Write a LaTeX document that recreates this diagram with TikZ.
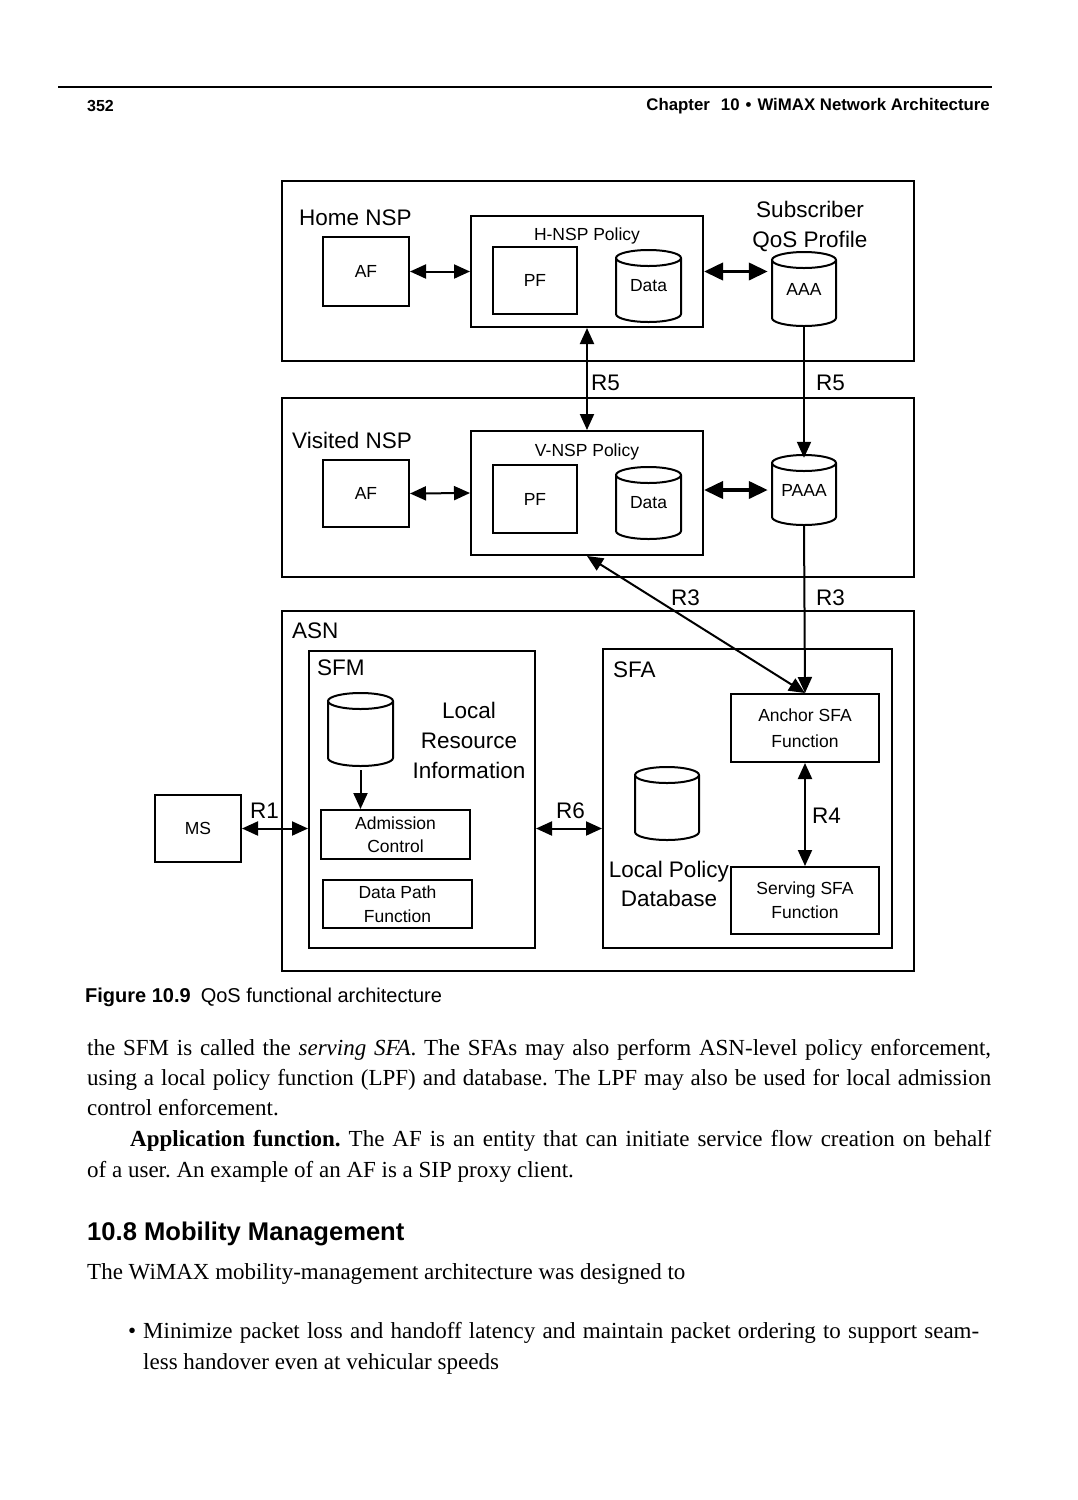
\documentclass[tikz,border=0pt]{standalone}
\usepackage{fontspec}
\setmainfont{Liberation Serif}
\setsansfont{Liberation Sans}
\usetikzlibrary{arrows.meta}

\tikzset{
  frame/.style={draw,line width=2.2pt,inner sep=0pt},
  box/.style={draw,line width=2pt,inner sep=0pt,align=center,
    font=\sffamily\fontsize{17.5}{24}\selectfont},
  db/.style={inner sep=0pt,font=\sffamily\fontsize{17.5}{24}\selectfont},
  big/.style={inner sep=0pt,align=center,font=\sffamily\fontsize{22.5}{30}\selectfont},
  small/.style={inner sep=0pt,font=\sffamily\fontsize{17.5}{24}\selectfont},
  ref/.style={line width=2pt,
    {Triangle[length=16pt,width=14pt]}-{Triangle[length=16pt,width=14pt]}},
  one/.style={line width=2pt,-{Triangle[length=16pt,width=14pt]}},
  fat/.style={line width=3.8pt,
    {Triangle[length=19pt,width=17pt]}-{Triangle[length=19pt,width=17pt]}},
  body/.style={anchor=base west,inner sep=0pt,font=\frenchspacing\fontsize{23}{30}\selectfont},
}
% outline of a database drum round a named node
\newcommand\dbcyl[3]{%
  \draw[line width=2pt,shift={(#1.center)}]
    (-#2,-#3+8) -- (-#2,#3-8) arc (180:0:#2 and 8) -- (#2,-#3+8) arc (0:-180:#2 and 8) -- cycle;
  \draw[line width=2pt,shift={(#1.center)}] (-#2,-#3+8) arc (180:0:#2 and 8);
}

\begin{document}
\begin{tikzpicture}[x=1pt,y=-1pt]
\useasboundingbox (0,0) rectangle (1077,1500);

% running head
\draw[line width=1.4pt] (58,87) -- (992,87);
\node[anchor=west,inner sep=0pt,font=\sffamily\bfseries\fontsize{16}{18}\selectfont] (pageno) at (87,106) {352};
\node[anchor=east,inner sep=0pt,font=\sffamily\bfseries\fontsize{16.8}{18}\selectfont] (runhead) at (990,106)
  {Chapter\hspace{11pt}10\hspace{6pt}\textbullet\hspace{6pt}WiMAX Network Architecture};

% home NSP
\node[frame,minimum width=632pt,minimum height=180pt] (home) at (598,271) {};
\node[big,anchor=west] (homelbl) at (299,218) {Home NSP};
\node[box,minimum width=86pt,minimum height=69pt] (af1) at (366,271.5) {AF};
\node[box,minimum width=232pt,minimum height=111pt] (hpol) at (587,271.5) {};
\node[small] (hpollbl) at ([yshift=-21pt]hpol.north) {H-NSP Policy};
\node[box,minimum width=84pt,minimum height=67pt] (pf1) at (535,280.5) {PF};
\node[db,minimum width=65pt,minimum height=72pt] (data1) at (648.5,286) {Data};
\node[db,minimum width=64pt,minimum height=74pt] (aaa) at (804,289) {AAA};
\node[big] (sqp) at (810,226) {Subscriber\\QoS Profile};

% visited NSP
\node[frame,minimum width=632pt,minimum height=179pt] (visited) at (598,487.5) {};
\node[big,anchor=west] (vislbl) at (292,440) {Visited NSP};
\node[box,minimum width=86pt,minimum height=67pt] (af2) at (366,493.5) {AF};
\node[box,minimum width=232pt,minimum height=124pt] (vpol) at (587,493) {};
\node[small] (vpollbl) at ([yshift=-22pt]vpol.north) {V-NSP Policy};
\node[box,minimum width=84pt,minimum height=68pt] (pf2) at (535,499) {PF};
\node[db,minimum width=65pt,minimum height=72pt] (data2) at (648.5,503) {Data};
\node[db,minimum width=64pt,minimum height=70pt] (paaa) at (804,490) {PAAA};

% ASN
\node[frame,minimum width=632pt,minimum height=360pt] (asn) at (598,791) {};
\node[big,anchor=west] (asnlbl) at (292,631) {ASN};
\node[box,minimum width=226pt,minimum height=297pt] (sfm) at (422,799.5) {};
\node[big,anchor=west] (sfmlbl) at (317,668) {SFM};
\node[db,minimum width=65pt,minimum height=73pt] (lri) at (360.5,729.5) {};
\node[big] (lrilbl) at (469,740) {Local\\Resource\\Information};
\node[box,minimum width=149pt,minimum height=49pt,font=\sffamily\fontsize{17.5}{23}\selectfont] (adm) at (395.5,834.5) {Admission\\Control};
\node[box,minimum width=149pt,minimum height=48pt,font=\sffamily\fontsize{17.5}{24}\selectfont] (dpf) at (397.5,904) {Data Path\\Function};
\node[box,minimum width=289pt,minimum height=299pt] (sfa) at (747.5,798.5) {};
\node[big,anchor=west] (sfalbl) at (613,670) {SFA};
\node[box,minimum width=148pt,minimum height=68pt,font=\sffamily\fontsize{17.5}{26}\selectfont] (anchor) at (805,728) {Anchor SFA\\Function};
\node[db,minimum width=64pt,minimum height=73pt] (lpd) at (667,803.5) {};
\node[big,font=\sffamily\fontsize{22.5}{29}\selectfont] (lpdlbl) at (669,884) {Local Policy\\Database};
\node[box,minimum width=148pt,minimum height=67pt,font=\sffamily\fontsize{17.5}{24}\selectfont] (serving) at (805,900.5) {Serving SFA\\Function};
\node[box,minimum width=86pt,minimum height=67pt] (ms) at (198,828.5) {MS};

% drums
\dbcyl{data1}{32.5}{36}
\dbcyl{aaa}{32}{37}
\dbcyl{data2}{32.5}{36}
\dbcyl{paaa}{32}{35}
\dbcyl{lri}{32.5}{36.5}
\dbcyl{lpd}{32}{36.5}

% reference points
\draw[ref] (af1.east) -- (hpol.west);
\draw[fat] (hpol.east) -- ([xshift=-4pt]hpol.east -| aaa.west);
\draw[ref] (af2.east) -- (vpol.west);
\draw[fat] (vpol.east |- paaa.center) -- ([xshift=-4pt]paaa.west);
\draw[ref] (hpol.south) -- (vpol.north);
\draw[one] (aaa.south) -- ([yshift=-3pt]paaa.north);
\draw[ref] (vpol.south) -- (anchor.north);
\draw[one] (paaa.south) -- (anchor.north);
\draw[ref] (anchor.south) -- (serving.north);
\draw[one] ([yshift=-4pt]lri.south) -- (lri.south |- adm.north);
\draw[ref] (ms.east) -- (ms.east -| sfm.west);
\draw[ref] (sfm.east |- ms.east) -- (sfa.west |- ms.east);
\node[big,anchor=west] (r5a) at (591,383) {R5};
\node[big,anchor=west] (r5b) at (816,383) {R5};
\node[big,anchor=west] (r3a) at (671,598) {R3};
\node[big,anchor=west] (r3b) at (816,598) {R3};
\node[big,anchor=west] (r4) at (812,816) {R4};
\node[big,anchor=west] (r1) at (250,811) {R1};
\node[big,anchor=west] (r6) at (556,811) {R6};

% caption
\node[anchor=west,inner sep=0pt,font=\sffamily\fontsize{20}{24}\selectfont] (caption) at (85,997)
  {\textbf{Figure 10.9}\hspace{10pt}QoS functional architecture};

% text of the page
\node[body] (line1) at (87,1055) {\makebox[904pt][s]{the SFM is called the \textit{serving SFA}. The SFAs may also perform ASN-level policy enforcement,}};
\node[body] (line2) at (87,1085) {\makebox[904pt][s]{using a local policy function (LPF) and database. The LPF may also be used for local admission}};
\node[body] (line3) at (87,1115) {control enforcement.};
\node[body] (line4) at (130,1146) {\makebox[861pt][s]{\textbf{Application function.} The AF is an entity that can initiate service flow creation on behalf}};
\node[body] (line5) at (87,1177) {of a user. An example of an AF is a SIP proxy client.};
\node[anchor=base west,inner sep=0pt,font=\sffamily\bfseries\fontsize{25.6}{30}\selectfont] (sect) at (87,1240) {10.8 Mobility Management};
\node[body] (line6) at (87,1279) {The WiMAX mobility-management architecture was designed to};
\node[body] (bul1) at (128,1338) {\makebox[15pt][l]{\textbullet}\makebox[836pt][s]{Minimize packet loss and handoff latency and maintain packet ordering to support seam-}};
\node[body] (bul2) at (143,1369) {less handover even at vehicular speeds};
\end{tikzpicture}
\end{document}
